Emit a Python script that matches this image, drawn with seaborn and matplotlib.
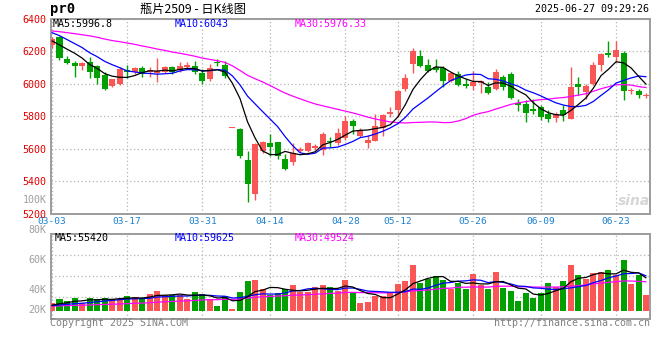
import numpy as np
import pandas as pd
import matplotlib
matplotlib.use("Agg")
import matplotlib.pyplot as plt
import seaborn as sns

# ---------------- data ----------------
holidays = ["2025-04-04", "2025-05-01", "2025-05-02", "2025-05-05", "2025-06-02"]
dates = [d for d in pd.bdate_range("2025-03-03", "2025-06-27").strftime("%Y-%m-%d") if d not in holidays]

open_ = [6238, 6291, 6151, 6130, 6112, 6136, 6112, 6055, 5986, 6000,
         6088, 6071, 6100, 6075, 6067, 6075, 6102, 6088, 6106, 6112,
         6067, 6031, 6132, 6116, 5725, 5721, 5532, 5318, 5583, 5634,
         5640, 5538, 5515, 5583, 5583, 5607, 5593, 5650, 5634, 5664,
         5770, 5680, 5638, 5648, 5729, 5815, 5837, 5969, 6122, 6173,
         6118, 6102, 6098, 6020, 6061, 6000, 5986, 6004, 5980, 5969,
         6045, 6061, 5884, 5878, 5843, 5857, 5813, 5790, 5837, 5782,
         5996, 5949, 5996, 6118, 6189, 6163, 6193, 5953, 5953, 5923]
close = [6275, 6157, 6130, 6108, 6126, 6075, 6039, 5969, 6027, 6092,
         6071, 6096, 6061, 6083, 6081, 6102, 6071, 6108, 6116, 6075,
         6020, 6096, 6126, 6047, 5725, 5552, 5379, 5629, 5644, 5613,
         5552, 5477, 5572, 5599, 5638, 5619, 5691, 5644, 5695, 5770,
         5741, 5715, 5654, 5739, 5807, 5827, 5953, 6037, 6204, 6112,
         6081, 6088, 6020, 6065, 5994, 5986, 6010, 6016, 5943, 6075,
         5980, 5912, 5872, 5823, 5831, 5796, 5786, 5811, 5807, 5980,
         5980, 5986, 6118, 6187, 6179, 6210, 5953, 5962, 5929, 5933]
high = [6291, 6295, 6169, 6143, 6132, 6163, 6116, 6071, 6031, 6102,
        6116, 6102, 6112, 6102, 6157, 6112, 6112, 6132, 6132, 6143,
        6092, 6122, 6153, 6143, 5725, 5725, 5587, 5635, 5648, 5689,
        5644, 5566, 5633, 5613, 5644, 5627, 5701, 5670, 5725, 5803,
        5782, 5729, 5684, 5811, 5815, 5857, 5959, 6061, 6218, 6210,
        6153, 6153, 6112, 6075, 6081, 6031, 6081, 6026, 6010, 6092,
        6055, 6075, 5904, 5898, 5904, 5868, 5837, 5827, 5872, 6102,
        6041, 6000, 6132, 6193, 6265, 6265, 6204, 5974, 5969, 5945]
low = [6224, 6149, 6122, 6045, 6088, 6035, 6000, 5959, 5980, 5990,
       6035, 6061, 6041, 6041, 6014, 6067, 6061, 6075, 6100, 6061,
       6000, 6020, 6108, 6035, 5725, 5545, 5271, 5281, 5573, 5552,
       5538, 5471, 5497, 5578, 5578, 5593, 5562, 5609, 5623, 5654,
       5688, 5674, 5603, 5648, 5680, 5796, 5796, 5953, 6067, 6102,
       6071, 6075, 5980, 6014, 5986, 5974, 5959, 5945, 5939, 5965,
       5959, 5904, 5831, 5762, 5811, 5776, 5766, 5762, 5770, 5782,
       5929, 5904, 5990, 6081, 6163, 6132, 5898, 5939, 5912, 5912]
volume = [13000, 19800, 16400, 21500, 13000, 21500, 19800, 21500, 19800, 19800,
          24900, 23200, 19800, 28300, 33300, 26600, 26600, 26600, 19800, 31600,
          28300, 19800, 7900, 24900, 3400, 31600, 50300, 52000, 36700, 26600,
          29900, 36700, 43500, 31600, 31600, 40100, 43500, 40100, 34000, 52000,
          31300, 13600, 15000, 25500, 24900, 31600, 45200, 50300, 77400, 47500,
          53700, 58800, 52000, 36700, 47500, 36700, 62200, 44100, 36700, 65500,
          39000, 33300, 16400, 30500, 22000, 30500, 46900, 40100, 50300, 77400,
          60500, 53700, 63800, 65500, 68900, 60500, 85400, 45200, 60500, 26600]
# closes / volumes of the 29 sessions before 03-03 (only seed the moving averages)
prev_close = [6285, 6310, 6295, 6320, 6280, 6305, 6290, 6315, 6300, 6320,
              6340, 6365, 6350, 6380, 6355, 6370, 6345, 6375, 6360, 6360,
              6345, 6370, 6355, 6371, 6394, 6282, 6260, 6233, 6275]
prev_volume = [6500, 7200, 8100, 6800, 7500, 8400, 6900, 7700, 8000, 7300,
               6600, 7900, 8500, 7100, 7600, 8200, 7000, 7400, 8300, 7800,
               6900, 7500, 8100, 7200, 8600, 7700, 8000, 9000, 9200]

tick_dates = ["03-03", "03-17", "03-31", "04-14", "04-28", "05-12", "05-26", "06-09", "06-23"]
price_ticks = [5200, 5400, 5600, 5800, 6000, 6200, 6400]
vol_axis_labels = ["100K", "80K", "60K", "40K", "20K"]
price_legend = ["MA5:5996.8", "MA10:6043", "MA30:5976.33"]
vol_legend = ["MA5:55420", "MA10:59625", "MA30:49524"]
title_code = "pr0"
title_text = "瓶片2509 - 日K线图"
timestamp = "2025-06-27 09:29:26"

# ---------------- derived ----------------
n = len(close)
x = np.arange(n)
o = np.array(open_, float); c = np.array(close, float)
h = np.array(high, float); l = np.array(low, float)
v = np.array(volume, float)
up = c >= o

def ma(prev, cur, w):
    s = pd.Series(np.r_[prev, cur]).rolling(w).mean().to_numpy()
    return s[len(prev):]

pma = {w: ma(prev_close, c, w) for w in (5, 10, 30)}
vma = {w: ma(prev_volume, v, w) for w in (5, 10, 30)}

short = [d[5:] for d in dates]
tick_pos = [short.index(t) for t in tick_dates]

# ---------------- style ----------------
sns.set_theme(style="white")
plt.rcParams["font.family"] = ["DejaVu Sans Mono", "Noto Sans CJK SC"]

RED = "#fa5656"
GREEN = "#00a000"
MA_COLORS = {5: "black", 10: "#0000ff", 30: "#ff00ff"}
GRID = dict(color="#b4b4b4", linestyle=(0, (1, 2)), linewidth=0.9)
W, H = 660, 360

def fx(px):
    return px / W

def fy(py):
    return 1 - py / H

fig = plt.figure(figsize=(6.6, 3.6), dpi=100)
fig.patch.set_facecolor("white")
L, R = 50.7, 650
ax = fig.add_axes([fx(L), fy(213.5), fx(R) - fx(L), (213.5 - 19) / H])
axv = fig.add_axes([fx(L), fy(318.5), fx(R) - fx(L), (318.5 - 234.3) / H])

# ---- price candles ----
cols = np.where(up, RED, GREEN)
ax.vlines(x, l, h, colors=cols, linewidth=1.0, zorder=2)
ax.bar(x, np.maximum(np.abs(c - o), 6), bottom=np.minimum(o, c), width=0.8,
       color=cols, linewidth=0, zorder=3)
for w in (30, 10, 5):
    sns.lineplot(x=x, y=pma[w], color=MA_COLORS[w], linewidth=0.9, ax=ax, zorder=4)

ax.set_xlim(-0.17, 79.52)
ax.set_ylim(5200, 6400)
ax.set_yticks(price_ticks)
ax.set_yticklabels([str(t) for t in price_ticks])
ax.set_xticks(tick_pos)
ax.set_xticklabels(tick_dates)
ax.tick_params(axis="y", length=0, pad=2.9, labelcolor="#e00000", labelsize=7.2)
ax.tick_params(axis="x", length=0, pad=2.5, labelcolor="#1a80d0", labelsize=6.8)
ax.grid(True, **GRID)
ax.set_xlabel(""); ax.set_ylabel("")

# ---- volume ----
vdf = pd.DataFrame({"x": x, "v": v, "dir": np.where(up, "up", "down")})
sns.barplot(data=vdf, x="x", y="v", hue="dir", palette={"up": RED, "down": GREEN},
            native_scale=True, dodge=False, width=0.8, saturation=1, errorbar=None,
            legend=False, linewidth=0, ax=axv, zorder=3)
for w in (30, 10, 5):
    sns.lineplot(x=x, y=vma[w], color=MA_COLORS[w], linewidth=0.9, ax=axv, zorder=4)
vlo, vhi = -13200, 129500
axv.set_xlim(-0.17, 79.52)
axv.set_ylim(vlo, vhi)
axv.set_yticks(np.linspace(vlo, vhi, 5)[1:4])
axv.set_yticklabels([])
axv.set_xticks(tick_pos)
axv.set_xticklabels([])
axv.tick_params(length=0)
axv.grid(True, **GRID)
axv.set_xlabel(""); axv.set_ylabel("")

for a in (ax, axv):
    for s in a.spines.values():
        s.set_color("#9c9c9c")
        s.set_linewidth(1.4)
        s.set_visible(True)
    a.set_facecolor("white")
    a.set_axisbelow(True)

# ---- texts ----
fig.text(fx(50), fy(9), title_code, fontsize=10, fontweight="bold", color="black",
         va="center", ha="left")
fig.text(fx(140), fy(9), title_text, fontsize=8.8, color="black", va="center", ha="left",
         family=["Noto Sans CJK SC", "DejaVu Sans"])
fig.text(fx(649), fy(9.5), timestamp, fontsize=7.2, color="black", va="center", ha="right")

leg_x = [53, 175, 295]
for lab, xx, w in zip(price_legend, leg_x, (5, 10, 30)):
    fig.text(fx(xx), fy(24), lab, fontsize=7.2, color=MA_COLORS[w], va="center", ha="left")
for lab, xx, w in zip(vol_legend, [55, 175, 295], (5, 10, 30)):
    fig.text(fx(xx), fy(238), lab, fontsize=7.2, color=MA_COLORS[w], va="center", ha="left")

for lab, yy in zip(vol_axis_labels, [200, 230, 260, 290, 310]):
    fig.text(fx(46.7), fy(yy), lab, fontsize=7.2, color="#a0a0a0", va="center", ha="right")

fig.text(fx(50), fy(323.5), "Copyright 2025 SINA.COM", fontsize=7.2, color="#808080",
         va="center", ha="left")
fig.text(fx(650), fy(323.5), "http://finance.sina.com.cn", fontsize=7.2, color="#808080",
         va="center", ha="right")
fig.text(fx(634), fy(201), "sina", fontsize=10, fontweight="bold", style="italic",
         color="#d6d6d6", va="center", ha="center", family=["DejaVu Sans"])

fig.savefig("out.png", dpi=100, facecolor="white")
